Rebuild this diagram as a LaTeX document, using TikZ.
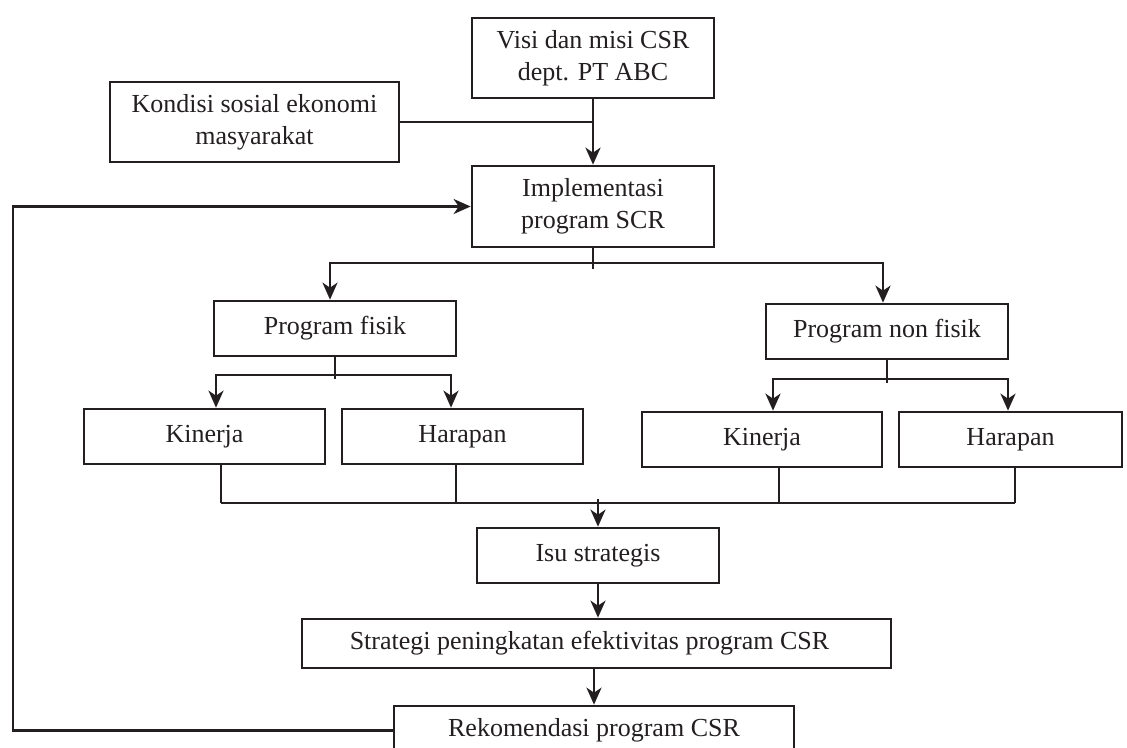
\documentclass[tikz,border=0pt]{standalone}
\usepackage{fontspec}
\setmainfont{Liberation Serif}
\usetikzlibrary{arrows.meta}
\definecolor{ink}{RGB}{35,31,32}
\begin{document}
\begin{tikzpicture}[x=1pt,y=-1pt,
  box/.style={draw=ink, line width=2.7pt, rectangle, inner sep=0pt, align=center,
    text=ink, font=\fontsize{26}{32}\selectfont},
  conn/.style={draw=ink, line width=2.3pt},
  thickconn/.style={draw=ink, line width=2.7pt},
  arr/.style={conn, -{Stealth[length=17pt,width=15pt,inset=5pt]}},
]
\useasboundingbox (0,0) rectangle (1127,747);
\fill[white] (0,0) rectangle (1127,747);
\clip (0,0) rectangle (1127,747);

% nodes
\node[box, minimum width=242pt, minimum height=80pt] (visi) at (593,58) {Visi dan misi CSR\\dept. PT ABC};
\node[box, minimum width=289pt, minimum height=80pt] (kond) at (254.5,122) {Kondisi sosial ekonomi\\masyarakat};
\node[box, minimum width=242pt, minimum height=81pt] (impl) at (593,206.5) {Implementasi\\program SCR};
\node[box, minimum width=242pt, minimum height=55pt] (pf) at (335,328.5) {Program fisik};
\node[box, minimum width=242pt, minimum height=55pt] (pnf) at (887,331.5) {Program non fisik};
\node[box, minimum width=241pt, minimum height=55pt] (k1) at (204.5,436.5) {Kinerja};
\node[box, minimum width=241pt, minimum height=55pt] (h1) at (462.5,436.5) {Harapan};
\node[box, minimum width=240pt, minimum height=55pt] (k2) at (762,439.5) {Kinerja};
\node[box, minimum width=223pt, minimum height=55pt] (h2) at (1010.5,439.5) {Harapan};
\node[box, minimum width=242pt, minimum height=55pt] (isu) at (598,555.5) {Isu strategis};
\node[box, minimum width=589pt, minimum height=49pt] (strat) at (596.5,643.5) {Strategi peningkatan efektivitas program CSR\hspace*{14pt}};
\node[box, minimum width=400pt, minimum height=49pt] (rek) at (594,730.5) {Rekomendasi program CSR};

% top inputs
\draw[conn] (kond.east) -- (kond.east -| visi.south);
\draw[arr] (visi.south) -- (impl.north);

% feedback loop
\coordinate (fb) at (13,0);
\draw[arr] (rek.west) -- (rek.west -| fb) |- (impl.west);

% branch from implementation
\coordinate (j1l) at (330,263);
\coordinate (j1r) at (883,263);
\draw[conn] (impl.south) -- ++(0,21);
\draw[arr] (j1r) -- (j1l) -- (j1l |- pf.north);
\draw[arr] (j1l) -- (j1r) -- (j1r |- pnf.north);

% branch from program fisik
\coordinate (j2l) at (216,375);
\coordinate (j2r) at (451,375);
\draw[conn] (pf.south) -- ++(0,22);
\draw[arr] (j2r) -- (j2l) -- (j2l |- k1.north);
\draw[arr] (j2l) -- (j2r) -- (j2r |- h1.north);

% branch from program non fisik
\coordinate (j3l) at (773,379);
\coordinate (j3r) at (1008,379);
\draw[conn] (pnf.south) -- ++(0,23);
\draw[arr] (j3r) -- (j3l) -- (j3l |- k2.north);
\draw[arr] (j3l) -- (j3r) -- (j3r |- h2.north);

% collector
\coordinate (c1) at (221,503);
\coordinate (c2) at (456,503);
\coordinate (c3) at (779,503);
\coordinate (c4) at (1015,503);
\draw[conn] (c1 |- k1.south) -- (c1);
\draw[conn] (c2 |- h1.south) -- (c2);
\draw[conn] (c3 |- k2.south) -- (c3);
\draw[conn] (c4 |- h2.south) -- (c4);
\draw[thickconn] (c1) -- (c4);
\coordinate (c0) at (598,499);
\draw[arr] (c0) -- (isu.north);

% lower chain
\draw[arr] (isu.south) -- (isu.south |- strat.north);
\draw[arr] (strat.south -| rek.north) -- (rek.north);
\end{tikzpicture}
\end{document}
